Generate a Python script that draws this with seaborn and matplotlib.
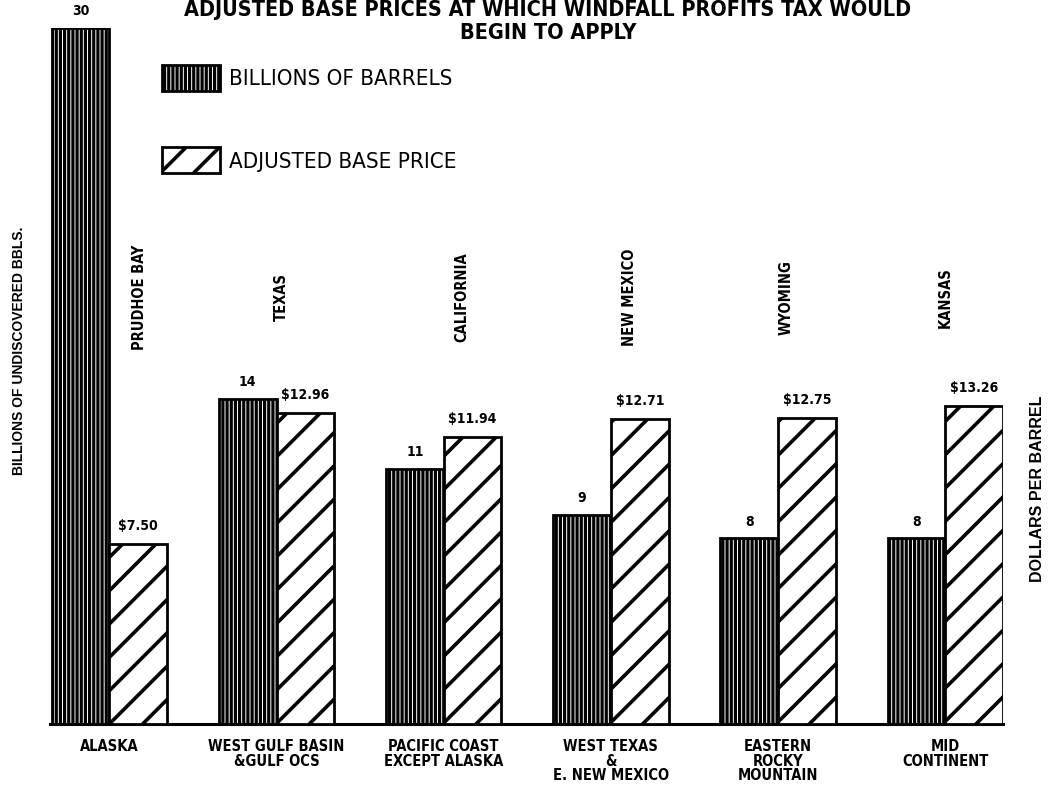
import numpy as np
import matplotlib
matplotlib.use("Agg")
import matplotlib.pyplot as plt
import matplotlib.transforms as mtransforms
from matplotlib import font_manager
from matplotlib.patches import Patch
import seaborn as sns

# ---- data -------------------------------------------------------------
regions = [
    "ALASKA",
    "WEST GULF BASIN\n&GULF OCS",
    "PACIFIC COAST\nEXCEPT ALASKA",
    "WEST TEXAS\n&\nE. NEW MEXICO",
    "EASTERN\nROCKY\nMOUNTAIN",
    "MID\nCONTINENT",
]
states = ["PRUDHOE BAY", "TEXAS", "CALIFORNIA", "NEW MEXICO", "WYOMING", "KANSAS"]
barrels = [30, 14, 11, 9, 8, 8]                       # billions of barrels
prices = [7.50, 12.96, 11.94, 12.71, 12.75, 13.26]    # dollars per barrel

title = "ADJUSTED BASE PRICES AT WHICH WINDFALL PROFITS TAX WOULD\nBEGIN TO APPLY"
series_names = ["BILLIONS OF BARRELS", "ADJUSTED BASE PRICE"]

# ---- style ------------------------------------------------------------
sns.set_style("white")


def family(name, fallback="DejaVu Sans"):
    try:
        font_manager.findfont(font_manager.FontProperties(family=name),
                              fallback_to_default=False)
        return [name, fallback]
    except ValueError:
        return [fallback]


NARROW = family("Liberation Sans Narrow")
SANS = family("Liberation Sans")
plt.rcParams["font.family"] = SANS
plt.rcParams["text.color"] = "black"
plt.rcParams["axes.labelcolor"] = "black"
plt.rcParams["xtick.color"] = "black"

narrow_bold = dict(family=NARROW, fontstretch="condensed", fontweight="bold")

BAR_W = 0.345
BARREL_HATCH, PRICE_HATCH = "||||", "/"
BARREL_HLW, PRICE_HLW = 2.3, 2.6


def set_hlw(patches, lw):
    for p in patches:
        if hasattr(p, "set_hatch_linewidth"):
            p.set_hatch_linewidth(lw)


fig = plt.figure(figsize=(10.48, 7.86), dpi=100)
ax = fig.add_axes([50 / 1048, 62 / 786, 953 / 1048, 696 / 786])
ax2 = ax.twinx()

x = np.arange(len(regions))

with plt.rc_context({"hatch.linewidth": BARREL_HLW}):
    sns.barplot(x=x - BAR_W / 2, y=barrels, native_scale=True, width=BAR_W,
                orient="x", color="white", saturation=1, edgecolor="black",
                linewidth=2, hatch=BARREL_HATCH, errorbar=None, ax=ax)
set_hlw(ax.patches, BARREL_HLW)

with plt.rc_context({"hatch.linewidth": PRICE_HLW}):
    sns.barplot(x=x + BAR_W / 2, y=prices, native_scale=True, width=BAR_W,
                orient="x", color="white", saturation=1, edgecolor="black",
                linewidth=2, hatch=PRICE_HATCH, errorbar=None, ax=ax2)
set_hlw(ax2.patches, PRICE_HLW)

ax.set_ylim(0, 30)
ax2.set_ylim(0, 29)
ax.set_xlim(-0.355, 5.345)

# value labels above each bar
ax.bar_label(ax.containers[0], fmt="{:g}", padding=7, fontsize=10, **narrow_bold)
ax2.bar_label(ax2.containers[0], fmt="${:.2f}", padding=8, fontsize=10, **narrow_bold)

# axes cosmetics
for a in (ax, ax2):
    for side in ("top", "left", "right"):
        a.spines[side].set_visible(False)
    a.set_yticks([])
    a.set_ylabel("")
ax2.spines["bottom"].set_visible(False)
ax.spines["bottom"].set_linewidth(2.2)
ax.spines["bottom"].set_color("black")
ax.set_xticks(x)
ax.set_xticklabels(regions, fontsize=10.5, linespacing=0.95, **narrow_bold)
ax.tick_params(axis="x", length=0, pad=11, colors="black")
ax.set_xlabel("")

# state names standing above each group
nudge = [0.18, 0.03, 0.11, 0.11, 0.05, 0.0]
trans = mtransforms.blended_transform_factory(ax.transData, ax.transAxes)
for xi, name, dx in zip(x, states, nudge):
    ax.text(xi + dx, 0.613, name, transform=trans, rotation=90,
            ha="center", va="center", fontsize=10.5, **narrow_bold)

# axis titles
fig.text(19 / 1048, 1 - 351 / 786, "BILLIONS OF UNDISCOVERED BBLS.", rotation=90,
         ha="center", va="center", fontsize=10, fontweight="bold", family=SANS)
fig.text(1037 / 1048, 1 - 489 / 786, "DOLLARS PER BARREL", rotation=90,
         ha="center", va="center", fontsize=11.5, fontweight="bold", family=SANS)

# chart title
fig.text(548 / 1048, 1.0, title, ha="center", va="top",
         fontsize=15.5, linespacing=1.2, **narrow_bold)

# legend
handles = [
    Patch(facecolor="white", edgecolor="black", linewidth=2, hatch=BARREL_HATCH),
    Patch(facecolor="white", edgecolor="black", linewidth=2, hatch=PRICE_HATCH),
]
leg = fig.legend(handles, series_names, loc="upper left",
                 bbox_to_anchor=(162 / 1048, 1 - 65 / 786), frameon=False,
                 borderpad=0, borderaxespad=0, handlelength=2.6, handleheight=1.4,
                 handletextpad=0.4, labelspacing=2.55,
                 prop=font_manager.FontProperties(family=NARROW, size=16,
                                                  stretch="condensed"))
lp = leg.get_patches()
set_hlw(lp[:1], BARREL_HLW)
set_hlw(lp[1:], PRICE_HLW)

fig.savefig("out.png", dpi=100, facecolor="white")
